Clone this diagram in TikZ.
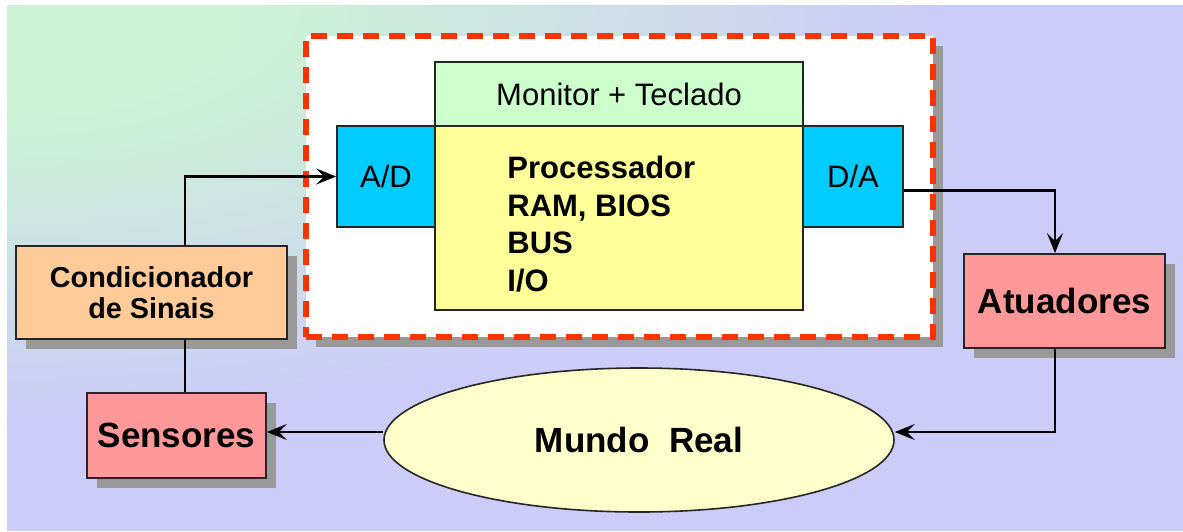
\documentclass[tikz,border=0pt]{standalone}
\usepackage{fontspec}
\setmainfont{Liberation Sans}
\usepackage{tikz}
\usetikzlibrary{arrows.meta,shadows,shapes.geometric}
\definecolor{bgmint}{HTML}{CCF4D4}
\definecolor{bglav}{HTML}{CCCCF8}
\definecolor{framered}{HTML}{FF3300}
\definecolor{monigreen}{HTML}{CCFFCC}
\definecolor{cpuyellow}{HTML}{FFFF99}
\definecolor{convcyan}{HTML}{00CCFF}
\definecolor{condorange}{HTML}{FFCC99}
\definecolor{devpink}{HTML}{FF9999}
\definecolor{worldyellow}{HTML}{FFFFCC}
\definecolor{shadowgray}{HTML}{999999}

\tikzset{
  box/.style={draw=black!85, line width=0.9pt, rectangle, inner sep=0pt},
  shadowed/.style={drop shadow={shadow xshift=5pt, shadow yshift=-5pt, fill=shadowgray, opacity=1}},
  wire/.style={line width=1.4pt, -{Stealth[length=10pt, width=8pt, inset=4pt]}},
  plainwire/.style={line width=1.4pt},
  regtext/.style={font=\fontsize{15.5}{19}\selectfont},
  boldtext/.style={font=\bfseries\fontsize{15.5}{18.9}\selectfont},
}

\begin{document}
\begin{tikzpicture}[x=0.5pt, y=-0.5pt]
  \useasboundingbox (0,0) rectangle (1183,531);
  % background
  \fill[white] (0,0) rectangle (1183,531);
  \begin{scope}
    \clip (7,5) rectangle (1183,531);
    \fill[bglav] (7,5) rectangle (1183,531);
    \foreach \r in {80,79,...,20}{
      \pgfmathsetmacro\mix{100*(\r-20)/60}
      \fill[bglav!\mix!bgmint] (7,5) ellipse [x radius=\r*11.76, y radius=\r*5.26];
    }
  \end{scope}

  % computer frame
  \node[rectangle, minimum width=313.5pt, minimum height=150.5pt, fill=white,
        draw=framered, line width=3pt, dash pattern=on 8pt off 5pt,
        drop shadow={shadow xshift=5pt, shadow yshift=-5pt, fill=shadowgray, opacity=1}]
        (pc) at (619.5,186.5) {};

  \node[box, fill=monigreen, minimum width=184pt, minimum height=32pt, regtext] (mon) at (619,94) {Monitor + Teclado};
  \node[box, fill=cpuyellow, minimum width=184pt, minimum height=92pt] (cpu) at (619,218) {};
  \node[boldtext, align=left, anchor=west, inner sep=0pt] (cputxt) at (507,224)
        {Processador\\RAM, BIOS\\BUS\\I/O};
  \node[box, fill=convcyan, minimum width=49pt, minimum height=50.5pt, regtext] (ad) at (386,176.5) {A/D};
  \node[box, fill=convcyan, minimum width=50pt, minimum height=50.5pt, regtext] (da) at (853,176.5) {D/A};

  % outside blocks
  \node[box, shadowed, fill=condorange, minimum width=135.5pt, minimum height=46.5pt,
        align=center, font=\bfseries\fontsize{14.4}{15.5}\selectfont] (cond) at (151.5,292.5) {Condicionador\\de Sinais};
  \node[box, shadowed, fill=devpink, minimum width=89.5pt, minimum height=42.5pt,
        font=\bfseries\fontsize{17.5}{20}\selectfont] (sens) at (176.5,435.5) {Sensores};
  \node[box, shadowed, fill=devpink, minimum width=100.5pt, minimum height=47pt,
        font=\bfseries\fontsize{17.5}{20}\selectfont] (act) at (1064.5,301) {Atuadores};
  \node[ellipse, draw=black!85, line width=0.8pt, fill=worldyellow, minimum width=255pt, minimum height=72pt,
        font=\bfseries\fontsize{17.5}{20}\selectfont] (world) at (639,440) {Mundo\ \ Real};

  % connectors
  \coordinate (tap) at (185,0);
  \coordinate (drop) at (1055,0);
  \draw[wire] (cond.north -| tap) |- (ad.west);
  \draw[plainwire] (cond.south -| tap) -- (sens.north -| tap);
  \draw[wire] ([yshift=-7pt]da.east) -| (act.north -| drop);
  \draw[wire] (act.south -| drop) |- ([yshift=4pt]world.east);
  \draw[wire] ([yshift=4pt]world.west) -- ([yshift=4pt]world.west -| sens.east);
\end{tikzpicture}
\end{document}
